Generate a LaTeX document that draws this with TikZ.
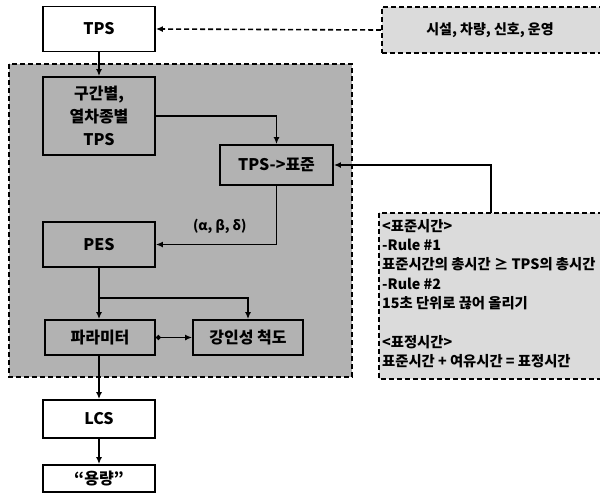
\documentclass[tikz,border=0pt]{standalone}
\usepackage{fontspec}
\setmainfont{Noto Sans CJK KR}
\usetikzlibrary{arrows.meta,positioning,calc}
\tikzset{
  box/.style={draw=black, line width=1.8pt, minimum width=112pt, inner sep=0pt, align=center, font=\bfseries\fontsize{16}{23}\selectfont},
  arr/.style={line width=1.6pt, -{Latex[length=7pt,width=6pt]}},
  dbox/.style={draw=black, line width=1.6pt, dash pattern=on 5pt off 3pt},
}
\begin{document}
\begin{tikzpicture}[x=1pt,y=-1pt]
\useasboundingbox (0,0) rectangle (600,501);
% shaded regions
\path[dbox, fill=black!30] (9,64) rectangle (352,377);
\node[dbox, fill=black!14, minimum width=220pt, minimum height=46pt, inner sep=0pt, anchor=west] (src) at (381,30) {};
\node[font=\bfseries\fontsize{14}{16}\selectfont] (srct) at (490,30) {시설, 차량, 신호, 운영};
\path[dbox, fill=black!14] (379,213) rectangle (601,379);
\coordinate (rt) at (491,213);
\node[anchor=north west, align=left, inner sep=0pt, font=\bfseries\fontsize{14.3}{19.3}\selectfont] (rules) at (382,219) {<표준시간>\\-Rule \#1\\표준시간의 총시간 ≥ TPS의 총시간\\-Rule \#2\\15초 단위로 끊어 올리기\\[19.3pt]<표정시간>\\표준시간 + 여유시간 = 표정시간};
% boxes
\node[box, fill=white, minimum height=45pt] (tps) at (99,29) {TPS};
\node[box, minimum height=78pt] (gu) at (99,116) {구간별,\\열차종별\\TPS};
\node[box, minimum width=113pt, minimum height=40pt] (std) at (276.5,165) {TPS->표준};
\node[box, minimum height=45pt] (pes) at (99,244.5) {PES};
\node[box, minimum width=110pt, minimum height=35pt] (param) at (100,337.5) {파라미터};
\node[box, minimum width=110pt, minimum height=35pt] (rob) at (248,337.5) {강인성 척도};
\node[box, fill=white, minimum height=38pt] (lcs) at (99,419) {LCS};
\node[box, fill=white, minimum height=27pt] (cap) at (99,478.5) {“용량”};
% connectors
\draw[arr, dash pattern=on 5pt off 3pt] (src.west) -- (tps.east);
\draw[arr] (tps.south) -- (gu.north);
\draw[arr] (gu.east) -| (std.north);
\draw[arr] (rt) |- (std.east);
\draw[arr] (std.south) |- (pes.east) node[pos=0.735, above=7pt, font=\bfseries\fontsize{13.5}{15}\selectfont] (lab) {(α, β, δ)};
\draw[arr] (pes.south) -- (pes.south |- param.north);
\coordinate (br) at (99,298);
\draw[arr] (br) -| (rob.north);
\draw[line width=1.6pt, {Circle[length=5pt]}-{Latex[length=7pt,width=6pt]}] (param.east) -- (rob.west);
\draw[arr] (param.south -| lcs.north) -- (lcs.north);
\draw[arr] (lcs.south) -- (cap.north);
\end{tikzpicture}
\end{document}
